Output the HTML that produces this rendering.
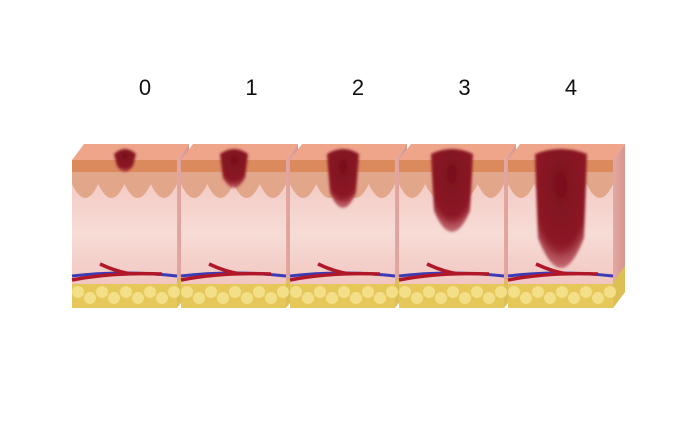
<!DOCTYPE html>
<html><head><meta charset="utf-8"><style>
html,body{margin:0;padding:0;background:#fff;}
svg{display:block;}
text{font-family:"Liberation Sans",sans-serif;}
</style></head><body>
<svg id="fig" width="688" height="434" viewBox="0 0 688 434">
<defs>
<linearGradient id="derm" x1="0" y1="0" x2="0" y2="1">
<stop offset="0" stop-color="#f2c4bd"/><stop offset="0.5" stop-color="#f7dcd6"/><stop offset="1" stop-color="#efbcb6"/>
</linearGradient>
<linearGradient id="side" x1="0" y1="0" x2="1" y2="0">
<stop offset="0" stop-color="#e3a8a2"/><stop offset="1" stop-color="#d8958f"/>
</linearGradient>
<radialGradient id="les" cx="0.5" cy="0.3" r="0.7">
<stop offset="0" stop-color="#7a0f1c"/><stop offset="0.75" stop-color="#8e1a26"/><stop offset="1" stop-color="#a83040" stop-opacity="0.6"/>
</radialGradient>
<filter id="blur"><feGaussianBlur stdDeviation="1.2"/></filter>
</defs>
<g id="blocks"></g>
</svg>
<script>
const stageLabels = ["0","1","2","3","4"];
const lesionDepth = [10, 30, 55, 85, 130];
const lesionWidth = [22, 28, 32, 42, 52];
(function(){
const ns="http://www.w3.org/2000/svg";
const g=document.getElementById('blocks');
function mk(t,a,p){const e=document.createElementNS(ns,t);for(const k in a)e.setAttribute(k,a[k]);(p||g).appendChild(e);return e;}
const x0=72, step=109, w=105, yTop=160, bot=308, dx=12, dy=16;
stageLabels.forEach((lab,i)=>{
  const x=x0+i*step;
  const bg=mk('g',{});
  
  
  mk('polygon',{points:`${x+w},${yTop} ${x+w+dx},${yTop-dy} ${x+w+dx},${bot-dy} ${x+w},${bot}`,fill:'url(#side)'},bg);
  mk('polygon',{points:`${x+w},${bot-26} ${x+w+dx},${bot-26-dy} ${x+w+dx},${bot-dy} ${x+w},${bot}`,fill:'#dcc055'},bg);
  mk('polygon',{points:`${x},${yTop} ${x+dx},${yTop-dy} ${x+w+dx},${yTop-dy} ${x+w},${yTop}`,fill:'#eea58a'},bg);
  mk('rect',{x:x,y:yTop,width:w,height:bot-yTop,fill:'url(#derm)'},bg);
  let d=`M${x},${yTop+10} L${x+w},${yTop+10} L${x+w},${yTop+24}`;
  for(let k=4;k>=1;k--){const cx=x+k*w/4;d+=` Q${cx-w/8},${yTop+52} ${cx-w/4},${yTop+24}`;}
  mk('path',{d:d+' Z',fill:'#e2a68a'},bg);
  mk('rect',{x:x,y:yTop,width:w,height:12,fill:'#db8a5e'},bg);
  mk('path',{d:`M${x},${bot-32} Q${x+50},${bot-38} ${x+w},${bot-32}`,stroke:'#3b3bb5',"stroke-width":3,fill:'none'},bg);
  mk('path',{d:`M${x},${bot-28} Q${x+40},${bot-36} ${x+w-15},${bot-34} M${x+28},${bot-44} Q${x+45},${bot-36} ${x+60},${bot-34}`,stroke:'#b0182a',"stroke-width":3.5,fill:'none'},bg);
  mk('rect',{x:x,y:bot-24,width:w,height:24,fill:'#e6c75a'},bg);
  for(let k=0;k<9;k++){mk('circle',{cx:x+6+k*12,cy:bot-16+(k%2)*6,r:6,fill:'#f3df88'},bg);}
  const cx=x+53, lw=lesionWidth[i], ld=lesionDepth[i];
  const les=mk('path',{d:`M${cx-lw/2},${yTop-6} Q${cx},${yTop-16} ${cx+lw/2},${yTop-6} L${cx+lw/2-3},${yTop+ld*0.6} Q${cx},${yTop+ld+8} ${cx-lw/2+3},${yTop+ld*0.6} Z`,fill:'url(#les)',filter:'url(#blur)'},bg);
  
  
  const t=mk('text',{x:x+73-i*2.5,y:95,"font-size":22,"text-anchor":"middle",fill:'#111'});
  t.textContent=lab;
  
  
});
})();
</script>
</body></html>
